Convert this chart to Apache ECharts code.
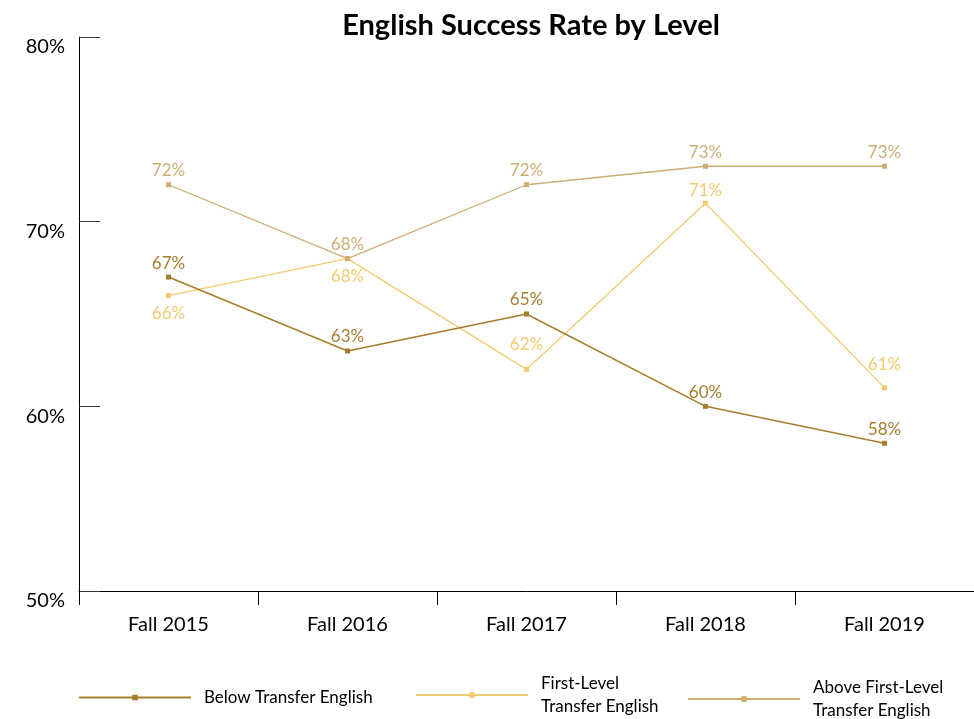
<!DOCTYPE html>
<html>
<head>
<meta charset="utf-8">
<script src="https://cdn.jsdelivr.net/npm/echarts@6/dist/echarts.min.js"></script>
<style>html,body{margin:0;padding:0;background:#fff}#c{width:974px;height:719px}</style>
</head>
<body>
<div id="c"></div>
<script>
const categories = ['Fall 2015', 'Fall 2016', 'Fall 2017', 'Fall 2018', 'Fall 2019'];
const belowTransfer = [67, 63, 65, 60, 58];
const firstLevel = [66, 68, 62, 71, 61];
const aboveFirstLevel = [72, 68, 72, 73, 73];
const seriesNames = ['Below Transfer English', 'First-Level Transfer English', 'Above First-Level Transfer English'];
const legendLabels = ['Below Transfer English', 'First-Level\nTransfer English', 'Above First-Level\nTransfer English'];
const yTicks = [50, 60, 70, 80];

const colors = ['#A67D2C', '#F1CB6F', '#CDAD73'];
const font = 'Lato, "Open Sans", sans-serif';

function mkSeries(name, values, color, labelLayout) {
  return {
    name: name,
    type: 'line',
    data: values.map((v, i) => {
      const l = labelLayout ? labelLayout[i] : ['top', 3];
      return { value: v, label: { position: l[0], distance: l[1] } };
    }),
    symbol: 'rect',
    symbolSize: 5,
    lineStyle: { color: color, width: name === seriesNames[0] ? 1.5 : 1.3 },
    itemStyle: { color: color },
    label: {
      show: true,
      formatter: p => p.value + '%',
      color: color,
      fontSize: 17,
      fontFamily: font
    },
    emphasis: { disabled: true },
    z: name === seriesNames[0] ? 3 : 2
  };
}

const chart = echarts.init(document.getElementById('c'), null, { renderer: 'canvas' });
const legendPos = [
  { left: 73, top: 681 },
  { left: 410, top: 667 },
  { left: 682, top: 671 }
];
chart.setOption({
  animation: false,
  color: colors,
  title: {
    text: 'English Success Rate by Level',
    left: 526,
    textAlign: 'center',
    top: 6,
    textStyle: { fontSize: 29, fontWeight: 'bold', color: '#000', fontFamily: font }
  },
  legend: seriesNames.map((n, i) => ({
    data: [n],
    left: legendPos[i].left,
    top: legendPos[i].top,
    itemWidth: 112,
    itemHeight: 7,
    itemGap: 0,
    formatter: () => legendLabels[i],
    textStyle: { fontSize: 17, color: '#000', fontFamily: font, lineHeight: 23, padding: [0, 0, 0, 8] },
    selectedMode: false
  })),
  grid: { left: 79, right: 0, top: 37, bottom: 128 },
  xAxis: {
    type: 'category',
    data: categories,
    boundaryGap: true,
    axisLine: { lineStyle: { color: '#000', width: 1 } },
    axisTick: { show: true, length: 14, lineStyle: { color: '#000' } },
    axisLabel: { color: '#000', fontSize: 20, fontFamily: font, margin: 24 }
  },
  yAxis: {
    type: 'value',
    min: yTicks[0],
    max: yTicks[yTicks.length - 1],
    interval: 10,
    axisLine: { show: true, lineStyle: { color: '#000', width: 1 } },
    axisTick: { show: true, inside: true, length: 21, lineStyle: { color: '#333' } },
    splitLine: { show: false },
    axisLabel: {
      color: '#000', fontSize: 20, fontFamily: font, margin: 14,
      formatter: v => v + '%',
      verticalAlign: 'top'
    }
  },
  series: [
    mkSeries(seriesNames[0], belowTransfer, colors[0]),
    mkSeries(seriesNames[1], firstLevel, colors[1],
      [['bottom', 7], ['bottom', 7], ['top', 14], ['top', 2], ['top', 12]]),
    mkSeries(seriesNames[2], aboveFirstLevel, colors[2])
  ]
});
</script>
</body>
</html>
